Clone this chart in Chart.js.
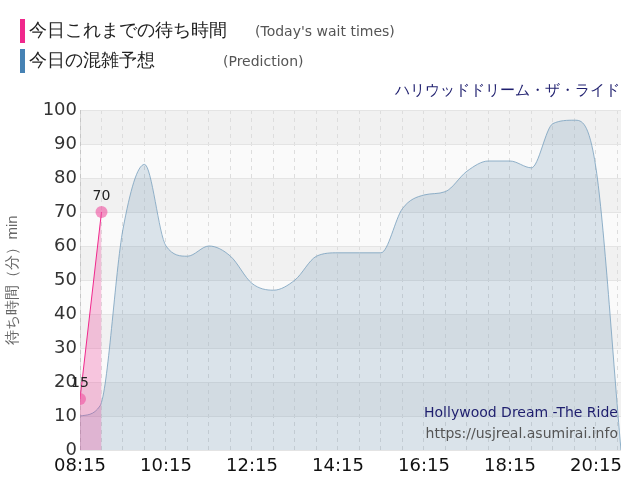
<!DOCTYPE html>
<html><head><meta charset="utf-8">
<script src="https://cdn.jsdelivr.net/npm/chart.js"></script>
<style>
body{margin:0;background:#fff;font-family:"DejaVu Sans",sans-serif}
#wrap{position:relative;width:640px;height:500px}
.lg{position:absolute;left:20px;font-size:18px;color:#222}
.lg i{display:inline-block;width:5px;height:24px;vertical-align:middle;margin-right:4px}
.lg span{font-size:14px;color:#555;margin-left:28px}
</style></head><body>
<div id="wrap">
<div class="lg" style="top:18px"><i style="background:#f0288c"></i>今日これまでの待ち時間<span>(Today's wait times)</span></div>
<div class="lg" style="top:48px"><i style="background:#4682b4"></i>今日の混雑予想<span style="margin-left:68px">(Prediction)</span></div>
<div style="position:absolute;right:20px;top:81px;font-size:15px;color:#1e1e6e">ハリウッドドリーム・ザ・ライド</div>
<div style="position:absolute;right:22px;top:402px;font-size:14px;color:#1e1e6e;text-align:right;line-height:21px">Hollywood Dream -The Ride<br><span style="color:#555">https://usjreal.asumirai.info</span></div>
<canvas id="c" width="640" height="500"></canvas>
</div>
<script>
// minutes since 08:15
const predMinutes = [0,28,60,90,120,150,180,210,240,270,300,330,360,390,420,450,480,510,540,570,600,630,660,690,720,755];
const predValues = [10,13,65,84,60,57,60,57,49,47,50,57,58,58,58,71,75,76,82,85,85,83,96,97,83,0];
const actualMinutes = [0,30];
const actualValues = [15,70];
const xTickLabels = ['08:15','10:15','12:15','14:15','16:15','18:15','20:15'];

const toPts = (xs, ys) => xs.map((x, i) => ({x: x, y: ys[i]}));

const bands = {
  id: 'bands',
  beforeDraw(chart) {
    const {ctx, chartArea: a, scales: {y}} = chart;
    for (let v = 0; v < 100; v += 10) {
      ctx.fillStyle = (v / 10) % 2 ? '#f1f1f1' : '#fafafa';
      ctx.fillRect(a.left, y.getPixelForValue(v + 10), a.right - a.left, y.getPixelForValue(v) - y.getPixelForValue(v + 10));
    }
  }
};
const labels = {
  id: 'labels',
  afterDatasetsDraw(chart) {
    const ctx = chart.ctx;
    const meta = chart.getDatasetMeta(1);
    ctx.font = '14px "DejaVu Sans"';
    ctx.fillStyle = '#222';
    ctx.textAlign = 'center';
    meta.data.forEach((p, i) => ctx.fillText(actualValues[i], p.x, p.y - 12));
  }
};

new Chart(document.getElementById('c'), {
  type: 'line',
  data: {
    datasets: [
      {data: toPts(predMinutes, predValues), borderColor: 'rgba(120,160,190,0.8)', borderWidth: 1,
       backgroundColor: 'rgba(70,120,160,0.18)', fill: 'origin', cubicInterpolationMode: 'monotone', pointRadius: 0, order: 2},
      {data: toPts(actualMinutes, actualValues), borderColor: '#f0288c', borderWidth: 1,
       backgroundColor: 'rgba(240,40,140,0.25)', fill: 'origin', tension: 0, pointRadius: 6,
       pointBackgroundColor: 'rgba(240,80,160,0.6)', pointBorderWidth: 0, order: 1}
    ]
  },
  options: {
    responsive: false, animation: false,
    layout: {padding: {top: 110, right: 19, left: 0, bottom: 0}},
    plugins: {legend: {display: false}, tooltip: {enabled: false}},
    scales: {
      x: {type: 'linear', min: 0, max: 755,
        afterFit: s => { s.height = 50; },
        afterBuildTicks: s => { s.ticks = []; for (let m = 0; m <= 750; m += 30) s.ticks.push({value: m}); },
        ticks: {autoSkip: false, maxRotation: 0, minRotation: 0, padding: 6, color: '#111', font: {size: 18, family: 'DejaVu Sans'},
          callback: v => v % 120 === 0 ? xTickLabels[v / 120] : ''},
        grid: {color: '#ddd', drawTicks: false}, border: {dash: [4, 4], display: false},
      },
      y: {min: 0, max: 100,
        afterFit: s => { s.width = 80; },
        ticks: {stepSize: 10, color: '#333', font: {size: 18, family: 'DejaVu Sans'}},
        grid: {color: '#e4e4e4', drawTicks: false},
        title: {display: true, text: '待ち時間（分）min', color: '#666', font: {size: 15}}
      }
    }
  },
  plugins: [bands, labels]
});
</script>
</body></html>
